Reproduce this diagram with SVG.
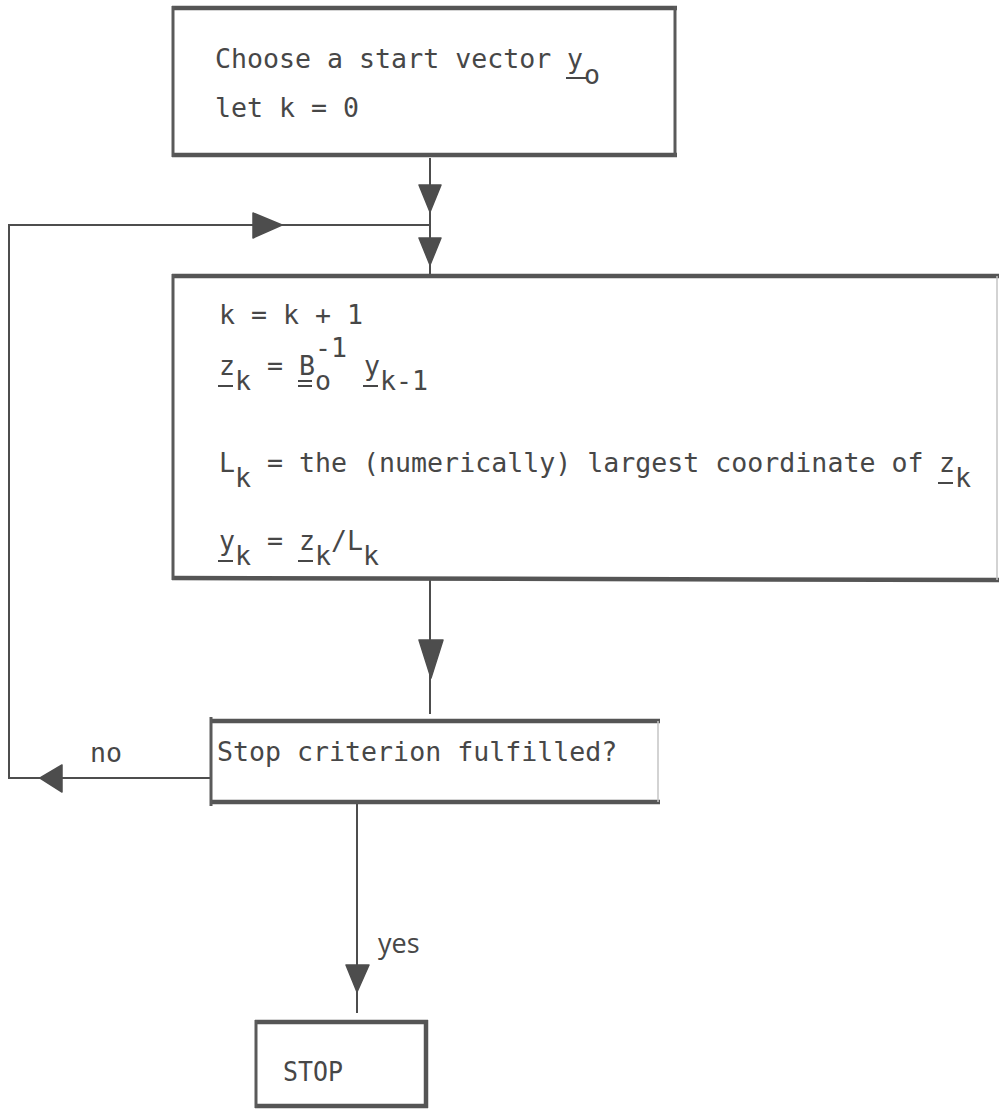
<svg xmlns="http://www.w3.org/2000/svg" width="999" height="1109" viewBox="0 0 999 1109">
<style>
.t{font-family:"DejaVu Sans Mono","Liberation Mono",monospace;font-size:26.6px;fill:#474747;white-space:pre}
.s{font-family:"Open Sans","Liberation Sans",sans-serif;font-size:27px;fill:#474747}
.hb{stroke:#555;stroke-width:4.5;fill:none}
.vb{stroke:#5a5a5a;stroke-width:3;fill:none}
.fb{stroke:#c4c4c4;stroke-width:1.5;fill:none}
.ln{stroke:#4d4d4d;stroke-width:2;fill:none}
.ul{stroke:#474747;stroke-width:2;fill:none}
.ah{fill:#4d4d4d;stroke:#4d4d4d;stroke-width:1.5;stroke-linejoin:round}
</style>
<rect width="999" height="1109" fill="#ffffff"/>
<g id="connectors">
<line class="ln" x1="430" y1="158" x2="430" y2="276"/>
<polygon class="ah" points="419,185 441,185 430,212"/>
<polygon class="ah" points="419,238 441,238 430,265"/>
<polyline class="ln" points="210,778 9,778 9,225 430,225"/>
<polygon class="ah" points="253,213 253,238 282,225"/>
<polygon class="ah" points="62,765 62,792 40,778"/>
<line class="ln" x1="430" y1="579" x2="430" y2="714"/>
<polygon class="ah" points="419,640 443,640 431,678"/>
<line class="ln" x1="357" y1="804" x2="357" y2="1013"/>
<polygon class="ah" points="346,965 369,965 357,992"/>
<text class="t" x="90" y="762">no</text>
<text class="s" x="378" y="953">yes</text>
</g>
<g id="start">
<line class="hb" x1="172" y1="8" x2="677" y2="8"/>
<line class="hb" x1="172" y1="155" x2="677" y2="155"/>
<line class="vb" x1="173" y1="6" x2="173" y2="157"/>
<line class="vb" x1="675" y1="6" x2="675" y2="157"/>
<text class="t" x="215" y="68">Choose a start vector </text>
<text class="t" x="567" y="68">y</text>
<line class="ul" x1="566" y1="78" x2="588" y2="78"/>
<text class="t" x="584" y="84">o</text>
<text class="t" x="215" y="117">let k = 0</text>
</g>
<g id="iterate">
<line class="hb" x1="172" y1="276" x2="999" y2="276"/>
<line class="hb" x1="172" y1="578" x2="999" y2="580"/>
<line class="vb" x1="173" y1="274" x2="173" y2="580"/>
<line class="fb" x1="997" y1="276" x2="997" y2="580"/>
<text class="t" x="219" y="324">k = k + 1</text>
<text class="t" x="219" y="375">z</text>
<line class="ul" x1="218" y1="386" x2="233" y2="386"/>
<text class="t" x="235" y="390">k</text>
<text class="t" x="267" y="375">=</text>
<text class="t" x="299" y="375">B</text>
<line class="ul" x1="298" y1="381" x2="312" y2="381"/>
<line class="ul" x1="298" y1="386" x2="312" y2="386"/>
<text class="t" x="315" y="357">-1</text>
<text class="t" x="315" y="390">o</text>
<text class="t" x="364" y="375">y</text>
<line class="ul" x1="363" y1="386" x2="378" y2="386"/>
<text class="t" x="380" y="390">k-1</text>
<text class="t" x="219" y="472">L</text>
<text class="t" x="235" y="487">k</text>
<text class="t" x="267" y="472">= the (numerically) largest coordinate of</text>
<text class="t" x="939" y="472">z</text>
<line class="ul" x1="938" y1="483" x2="953" y2="483"/>
<text class="t" x="955" y="487">k</text>
<text class="t" x="219" y="550">y</text>
<line class="ul" x1="218" y1="561" x2="233" y2="561"/>
<text class="t" x="235" y="565">k</text>
<text class="t" x="267" y="550">=</text>
<text class="t" x="299" y="550">z</text>
<line class="ul" x1="298" y1="561" x2="313" y2="561"/>
<text class="t" x="315" y="565">k</text>
<text class="t" x="331" y="550">/</text>
<text class="t" x="347" y="550">L</text>
<text class="t" x="363" y="565">k</text>
</g>
<g id="criterion">
<line class="hb" x1="211" y1="721" x2="660" y2="721"/>
<line class="hb" x1="211" y1="802" x2="660" y2="802"/>
<line class="vb" x1="211" y1="717" x2="211" y2="806"/>
<line class="fb" x1="658" y1="721" x2="658" y2="802"/>
<text class="t" x="217" y="761">Stop criterion fulfilled?</text>
</g>
<g id="stop">
<line class="hb" x1="255" y1="1022" x2="428" y2="1022"/>
<line class="hb" x1="255" y1="1106" x2="428" y2="1106"/>
<line class="vb" x1="256" y1="1020" x2="256" y2="1108"/>
<line class="hb" x1="426" y1="1020" x2="426" y2="1108"/>
<text class="t" x="283" y="1081" textLength="60" lengthAdjust="spacingAndGlyphs">STOP</text>
</g>
</svg>
